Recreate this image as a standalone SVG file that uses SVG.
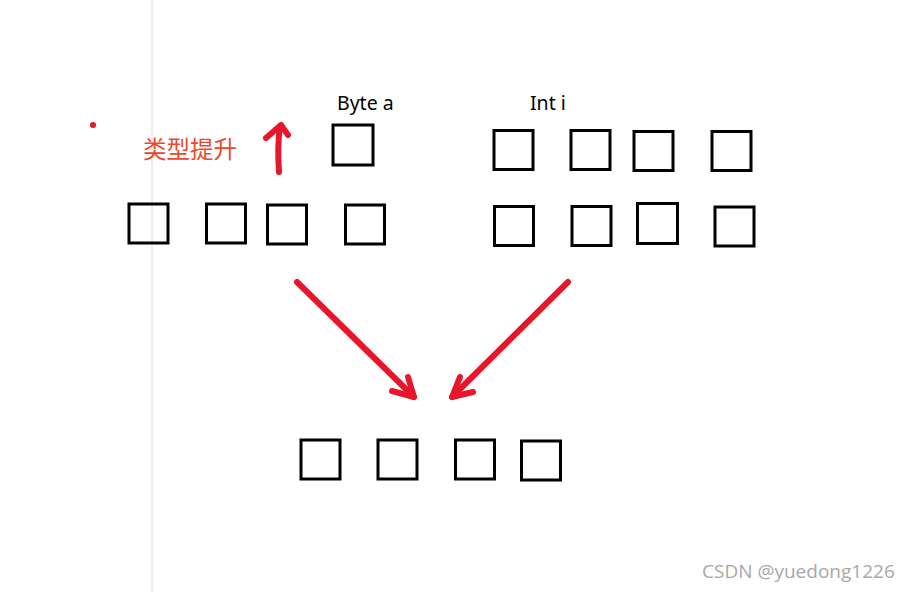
<svg xmlns="http://www.w3.org/2000/svg" width="912" height="592" viewBox="0 0 912 592">
<style>
.box{fill:none;stroke:#000;stroke-width:3}
.ink{fill:none;stroke:#E8162B;stroke-width:6;stroke-linecap:round;stroke-linejoin:round}
.lbl{font-family:"Noto Sans","Open Sans","Liberation Sans",sans-serif;font-size:19.5px;fill:#000}
</style>
<rect width="912" height="592" fill="#fff"/>
<line x1="152" y1="0" x2="152" y2="592" stroke="#dedede" stroke-width="1"/>
<circle cx="93" cy="125" r="3" fill="#E8162B"/>
<text x="143" y="158" font-family="'Noto Sans CJK SC',sans-serif" font-size="23.5" fill="#EA4A2A">类型提升</text>
<g id="byte-label"><text class="lbl" x="337" y="110">Byte a</text></g>
<g id="int-label"><text class="lbl" x="530" y="110">Int i</text></g>
<g id="byte-a"><rect class="box" x="333" y="125" width="40" height="40"/></g>
<g id="byte-promoted">
<rect class="box" x="129" y="204" width="39" height="39"/>
<rect class="box" x="206.5" y="204" width="39" height="39"/>
<rect class="box" x="267.5" y="205" width="39" height="39"/>
<rect class="box" x="345.5" y="205" width="39" height="39"/>
</g>
<g id="int-i">
<rect class="box" x="494" y="130.5" width="39" height="39"/>
<rect class="box" x="571" y="130.5" width="39" height="39"/>
<rect class="box" x="634" y="131.5" width="39" height="39"/>
<rect class="box" x="712" y="131.5" width="39" height="39"/>
</g>
<g id="int-i-2">
<rect class="box" x="494.5" y="206.5" width="39" height="39"/>
<rect class="box" x="572" y="206.5" width="39" height="39"/>
<rect class="box" x="637.5" y="203.5" width="40" height="40"/>
<rect class="box" x="715" y="207" width="39" height="39"/>
</g>
<g id="result">
<rect class="box" x="301" y="440" width="39" height="39"/>
<rect class="box" x="378" y="440" width="39" height="39"/>
<rect class="box" x="455.5" y="440" width="39" height="39"/>
<rect class="box" x="521.5" y="441" width="39" height="39"/>
</g>
<g id="connectors">
<path class="ink" d="M279 172 C278 158 278 140 280 126"/>
<path class="ink" d="M266 138 L281 125 L288 135"/>
<path class="ink" d="M297 282 L414 397"/>
<path class="ink" d="M392 391 L414 397 L408 377"/>
<path class="ink" d="M568 282 L452 397"/>
<path class="ink" d="M460 377 L452 397 L473 392"/>
</g>
<text x="702" y="578" font-family="'Open Sans','Noto Sans',sans-serif" font-size="19" fill="#a8a8a8">CSDN @yuedong1226</text>
</svg>
